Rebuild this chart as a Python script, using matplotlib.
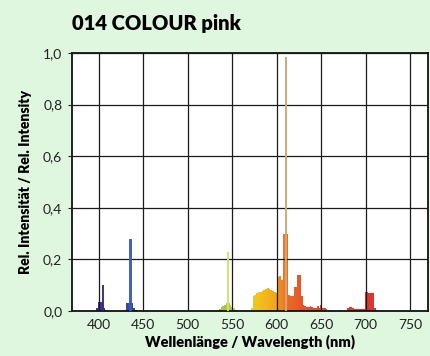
import numpy as np
import matplotlib
matplotlib.use("Agg")
import matplotlib.pyplot as plt
from matplotlib.colors import LinearSegmentedColormap, Normalize

plt.rcParams["font.family"] = ["Lato", "DejaVu Sans"]

TITLE = "014 COLOUR pink"
X_LABEL = "Wellenlänge / Wavelength (nm)"
Y_LABEL = "Rel. Intensität / Rel. Intensity"

X_TICKS = [400, 450, 500, 550, 600, 650, 700, 750]
Y_TICKS = [0.0, 0.2, 0.4, 0.6, 0.8, 1.0]
Y_TICK_LABELS = ["0,0", "0,2", "0,4", "0,6", "0,8", "1,0"]

# Breites Spektrum (2-nm Schritte)
cont_wl = [398, 400, 402, 404, 406, 408,
           430, 432, 434, 436, 438, 440, 442,
           534, 536, 538, 540, 542, 544, 546, 548, 550, 552, 554,
           572, 574, 576, 578, 580, 582, 584, 586, 588, 590, 592, 594, 596, 598, 600,
           602, 604, 606, 608, 610, 612, 614, 616, 618, 620, 622, 624, 626, 628,
           630, 632, 634, 636, 638, 640, 642, 644, 646, 648, 650, 652, 654, 656, 660,
           670, 680, 682, 684, 686, 688, 690, 692, 694, 696, 698,
           700, 702, 704, 706, 708, 710, 712]
cont_val = [0.01, 0.035, 0.035, 0.035, 0.012, 0.005,
            0.004, 0.03, 0.032, 0.032, 0.03, 0.01, 0.005,
            0.005, 0.008, 0.014, 0.02, 0.025, 0.03, 0.03, 0.025, 0.016, 0.01, 0.005,
            0.01, 0.058, 0.063, 0.068, 0.072, 0.075, 0.078, 0.082, 0.086, 0.088, 0.085, 0.082, 0.078, 0.074, 0.07,
            0.13, 0.135, 0.12, 0.30, 0.30, 0.30, 0.062, 0.06, 0.06, 0.092, 0.094, 0.14, 0.14, 0.06,
            0.025, 0.02, 0.015, 0.015, 0.02, 0.015, 0.012, 0.01, 0.02, 0.012, 0.025, 0.012, 0.01, 0.006, 0.004,
            0.003, 0.01, 0.015, 0.014, 0.01, 0.008, 0.007, 0.006, 0.006, 0.006, 0.006,
            0.072, 0.072, 0.07, 0.07, 0.068, 0.01, 0.004]

# Schmale Linien
line_wl = [404.7, 435.8, 545.5, 610.5]
line_val = [0.10, 0.28, 0.23, 0.985]

# Farbverlauf nach Wellenlänge
spec_cmap = LinearSegmentedColormap.from_list("spec", [
    (0.00, "#3a2590"), (0.12, "#2a3f9c"), (0.20, "#3558b0"),
    (0.45, "#a8c830"), (0.50, "#c8d848"), (0.56, "#f2c00e"),
    (0.62, "#f4a010"), (0.66, "#e8661a"), (0.72, "#e4481c"),
    (0.80, "#e03a20"), (1.00, "#d42a28")])
norm = Normalize(400, 720)

fig = plt.figure(figsize=(4.30, 3.56), dpi=100, facecolor="#dff6df")
ax = fig.add_axes([0.1674, 0.1264, 0.828, 0.7247])
ax.set_facecolor("white")

ax.bar(cont_wl, cont_val, width=2.0, color=spec_cmap(norm(np.array(cont_wl))),
       linewidth=0, alpha=0.95, zorder=2)
line_colors = [spec_cmap(norm(w)) for w in line_wl]
line_colors[1] = "#3a5cb2"
line_colors[2] = "#d6e06a"
line_colors[3] = "#d6a476"
ax.bar(line_wl, line_val, width=2.8, color=line_colors, linewidth=0, alpha=0.95, zorder=3)

ax.set_xlim(370, 770)
ax.set_ylim(0, 1.0)
ax.set_xticks(X_TICKS)
ax.set_yticks(Y_TICKS)
ax.set_yticklabels(Y_TICK_LABELS)
ax.grid(True, color="#1a1a1a", linewidth=0.9, zorder=4)
ax.set_axisbelow(False)
ax.tick_params(axis="x", length=0, labelsize=10, pad=6, colors="#222222")
ax.tick_params(axis="y", length=3, labelsize=10, pad=4, colors="#222222")
for s in ax.spines.values():
    s.set_linewidth(1.3)
    s.set_color("#111111")

ax.set_xlabel(X_LABEL, fontsize=10.5, fontweight="heavy", labelpad=2)
ax.set_ylabel(Y_LABEL, fontsize=10, fontweight="heavy", labelpad=8)
fig.text(0.1674, 0.935, TITLE, fontsize=14.5, fontweight="heavy", ha="left", va="center")

fig.savefig("out.png", dpi=100, facecolor=fig.get_facecolor())
